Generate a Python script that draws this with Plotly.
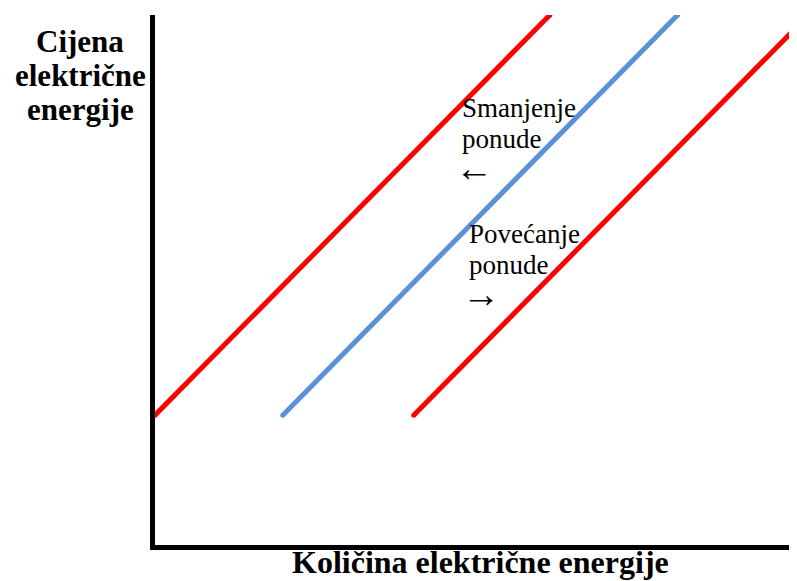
import plotly.graph_objects as go

# ---- data (abstract units: quantity 0-100, price 0-100) ----
supply_left_x = [0.0, 61.5]      # smanjenje ponude (red, left)
supply_left_y = [24.5, 100.0]
supply_base_x = [19.9, 81.4]     # initial supply (blue)
supply_base_y = [24.5, 100.0]
supply_right_x = [40.3, 101.8]   # povećanje ponude (red, right)
supply_right_y = [24.5, 100.0]

y_title_lines = ["Cijena", "električne", "energije"]
x_title = "Količina električne energije"
decrease_lines = ["Smanjenje", "ponude", "←"]
increase_lines = ["Povećanje", "ponude", "→"]

# ---- geometry (page body adds an 8px margin) ----
OFF = 8
W, H = 797 - OFF, 581 - OFF
L, R, T, B = 155 - OFF, 0, 15 - OFF, 44 - OFF
PW, PH = W - L - R, H - T - B

def px(x):
    return (x - OFF - L) / PW

def py(y):
    return (H - B - (y - OFF)) / PH

SERIF = "Liberation Serif, Times New Roman, serif"
RED = "#FF0000"
BLUE = "#5A92D8"

fig = go.Figure()
for xs, ys, col in [(supply_left_x, supply_left_y, RED),
                    (supply_base_x, supply_base_y, BLUE),
                    (supply_right_x, supply_right_y, RED)]:
    fig.add_trace(go.Scatter(x=xs, y=ys, mode="lines+markers",
                             line=dict(color=col, width=5),
                             marker=dict(color=col, size=5, line=dict(width=0)),
                             hoverinfo="skip", showlegend=False))

ann = []
for i, t in enumerate(y_title_lines):
    ann.append(dict(text="<b>%s</b>" % t, x=px(80), y=py(41.5 + 34 * i),
                    xanchor="center", yanchor="middle",
                    font=dict(family=SERIF, size=31, color="black")))
ann.append(dict(text="<b>%s</b>" % x_title, x=px(481), y=py(562),
                xanchor="center", yanchor="middle",
                font=dict(family=SERIF, size=32, color="black")))

def block(lines, x0, y0):
    for i, t in enumerate(lines):
        is_arrow = i == 2
        ann.append(dict(text=t, x=px(x0 - (7 if is_arrow else 0)),
                        y=py(y0 + 31 * i - (2 if is_arrow else 0)),
                        xanchor="left", yanchor="middle",
                        font=dict(family=SERIF, size=38 if is_arrow else 27,
                                  color="black")))

block(decrease_lines, 460, 108)
block(increase_lines, 467, 234)
for a in ann:
    a.update(xref="paper", yref="paper", showarrow=False)

axis = dict(showline=True, linewidth=5, linecolor="black", showgrid=False,
            zeroline=False, showticklabels=False, ticks="", fixedrange=True)
fig.update_layout(
    width=W, height=H,
    margin=dict(l=L, r=R, t=T, b=B),
    paper_bgcolor="white", plot_bgcolor="white",
    xaxis=dict(range=[0, 100], **axis),
    yaxis=dict(range=[0, 100], **axis),
    annotations=ann,
    showlegend=False,
)
fig.write_html("out.html")
